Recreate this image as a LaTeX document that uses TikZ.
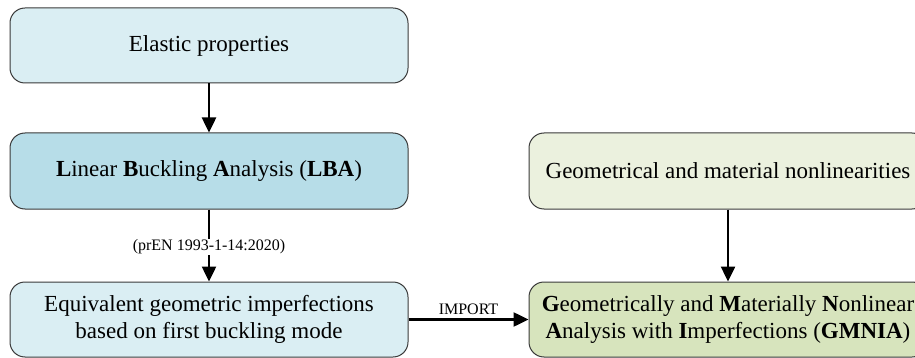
\documentclass[tikz,border=0pt]{standalone}
\usepackage{fontspec}
\setmainfont{Liberation Serif}
\usetikzlibrary{arrows.meta}
\definecolor{boxedge}{HTML}{3A3A3A}
\definecolor{lightblue}{HTML}{DAEEF3}
\definecolor{midblue}{HTML}{B7DDE8}
\definecolor{lightgreen}{HTML}{EBF1DE}
\definecolor{midgreen}{HTML}{D7E4BD}
\tikzset{
  flowbox/.style={draw=boxedge, line width=1pt, rounded corners=15pt,
    minimum width=398pt, minimum height=75pt, align=center, inner sep=2pt,
    font=\fontsize{23}{27}\selectfont},
  flowarrow/.style={line width=2.5pt, -{Triangle[length=15pt,width=14pt]}},
  smalllabel/.style={font=\fontsize{16}{18}\selectfont, inner sep=1pt}
}
\begin{document}
\begin{tikzpicture}[x=1pt,y=-1pt]
\useasboundingbox (0,0) rectangle (915,358);
\clip (0,0) rectangle (915,358);
\node[flowbox, fill=lightblue] (elastic) at (209,45.5) {Elastic properties};
\node[flowbox, fill=midblue, minimum height=76pt] (lba) at (209,171) {\textbf{L}inear \textbf{B}uckling \textbf{A}nalysis (\textbf{LBA})};
\node[flowbox, fill=lightblue] (equiv) at (209,319.5) {Equivalent geometric imperfections\\based on first buckling mode};
\node[flowbox, fill=lightgreen, minimum height=76pt] (geom) at (728,171) {Geometrical and material nonlinearities};
\node[flowbox, fill=midgreen] (gmnia) at (728,319.5) {\textbf{G}eometrically and \textbf{M}aterially \textbf{N}onlinear\\\textbf{A}nalysis with \textbf{I}mperfections (\textbf{GMNIA})};
\draw[flowarrow] (elastic) -- (lba);
\draw[flowarrow] (lba) -- node[smalllabel, fill=white, pos=0.52] {(prEN 1993-1-14:2020)} (equiv);
\draw[flowarrow] (geom) -- (gmnia);
\draw[flowarrow] (equiv.east) -- node[smalllabel, above=3pt] {IMPORT} (gmnia.west);
\end{tikzpicture}
\end{document}
